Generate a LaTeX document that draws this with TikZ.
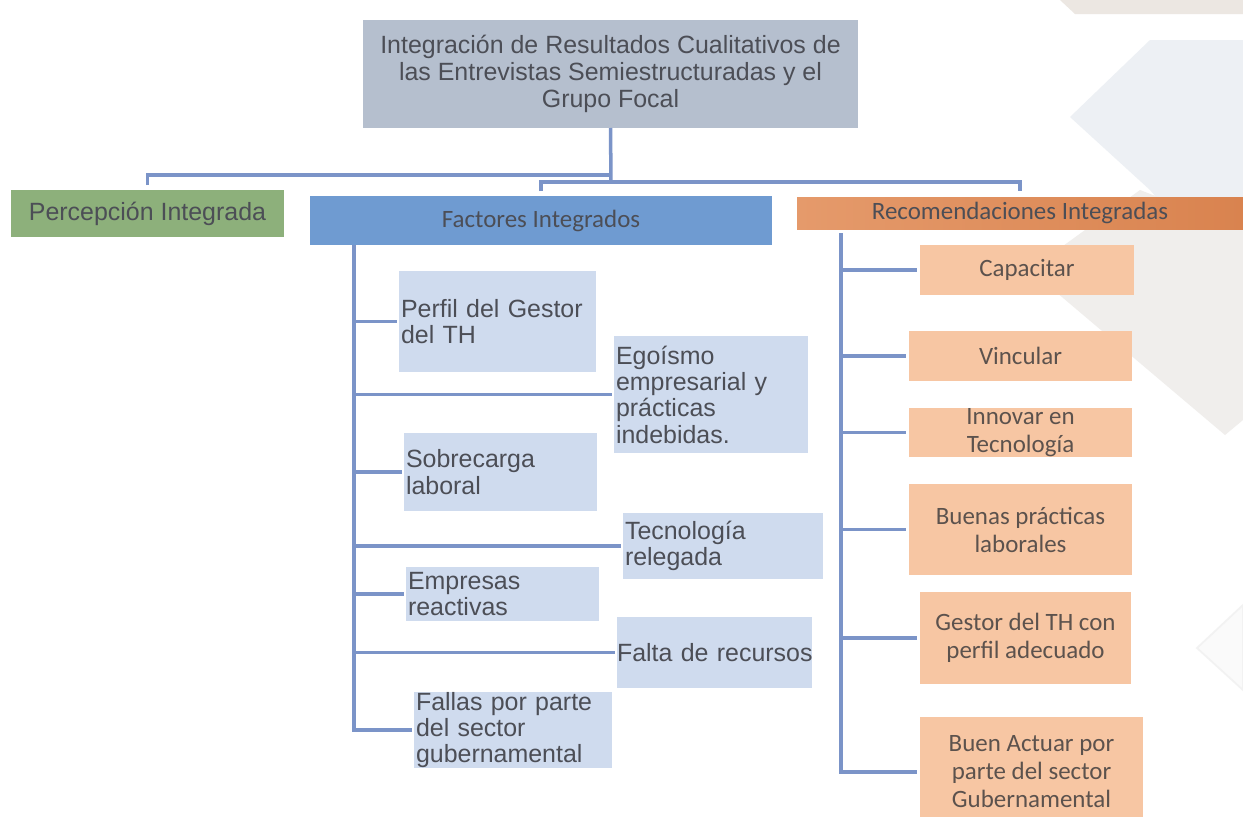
\documentclass[tikz,border=0pt]{standalone}
\usepackage{fontspec}
\setmainfont{Liberation Sans}
\newfontfamily\calfont{Carlito}
\definecolor{linec}{HTML}{7B94C8}
\definecolor{titlef}{HTML}{B5BFCE}
\definecolor{greenf}{HTML}{8DB07B}
\definecolor{bluef}{HTML}{6F9BD1}
\definecolor{orgA}{HTML}{E59A6B}
\definecolor{orgB}{HTML}{D9834F}
\definecolor{lblue}{HTML}{CFDBEE}
\definecolor{peach}{HTML}{F7C6A3}
\definecolor{txt}{HTML}{4C4E56}
\definecolor{txtc}{HTML}{5C524D}
\definecolor{bgA}{HTML}{EDF0F4}
\definecolor{bgB}{HTML}{F0EEEC}
\definecolor{bgC}{HTML}{ECE7E2}
\begin{document}
\begin{tikzpicture}[x=0.02cm,y=-0.02cm,
  conn/.style={draw=linec, line width=2pt},
  basebox/.style={rectangle, inner sep=0pt, outer sep=0pt},
  titlebox/.style={basebox, fill=titlef, text=txt, align=center,
    font=\fontsize{14.2}{15.3}\selectfont},
  headA/.style={basebox, text=txt, font=\fontsize{14.2}{15}\selectfont},
  headC/.style={basebox, text=txt, font=\calfont\fontsize{14.2}{15.9}\selectfont},
  fbox/.style={basebox, fill=lblue, text=txt, align=left, inner xsep=0.04cm,
    font=\fontsize{14.2}{15}\selectfont},
  rbox/.style={basebox, fill=peach, text=txtc, align=center,
    font=\calfont\fontsize{14.2}{15.9}\selectfont}
]
\clip (0,0) rectangle (1243,816);
\fill[white] (0,0) rectangle (1243,816);
% faint background decoration
\fill[bgC] (1060,0) -- (1243,0) -- (1243,14) -- (1075,14) -- cycle;
\fill[bgA] (1070,117) -- (1150,40) -- (1243,40) -- (1243,300) -- (1150,190) -- cycle;
\fill[bgB] (1030,270) -- (1140,190) -- (1243,230) -- (1243,420) -- (1225,435) -- cycle;
\filldraw[fill=gray!4, draw=gray!10, line width=1pt] (1197,648) -- (1243,605) -- (1243,690) -- cycle;

% top box and headers
\node[titlebox, minimum width=9.9cm, minimum height=2.16cm] (title) at (610.5,74)
  {Integración de Resultados Cualitativos de\\las Entrevistas Semiestructuradas y el\\Grupo Focal};
\node[headA, fill=greenf, minimum width=5.46cm, minimum height=0.94cm] (perc) at (147.5,213.5) {Percepción Integrada};
\node[headC, fill=bluef, minimum width=9.24cm, minimum height=0.98cm] (fact) at (541,220.5) {Factores Integrados};
\node[headC, left color=orgA, right color=orgB, minimum width=8.92cm, minimum height=0.64cm] (reco) at (1020,213) {Recomendaciones Integradas};

% factores children
\node[fbox, text width=3.86cm, minimum height=2.02cm] (p1) at (497.5,321.5) {Perfil del Gestor\\del TH};
\node[fbox, text width=3.80cm, minimum height=2.34cm] (p2) at (711,394.5) {Egoísmo\\empresarial y\\prácticas\\indebidas.};
\node[fbox, text width=3.78cm, minimum height=1.56cm] (p3) at (500.5,472) {Sobrecarga\\laboral};
\node[fbox, text width=3.92cm, minimum height=1.32cm] (p4) at (723,546) {Tecnología\\relegada};
\node[fbox, text width=3.78cm, minimum height=1.08cm] (p5) at (502.5,594) {Empresas\\reactivas};
\node[fbox, inner xsep=0pt, text width=3.9cm, minimum height=1.42cm] (p6) at (714.5,652.5) {\mbox{Falta de recursos}};
\node[fbox, text width=3.88cm, minimum height=1.52cm] (p7) at (513,730) {Fallas por parte\\del sector\\gubernamental};

% recomendaciones children
\node[rbox, minimum width=4.28cm, minimum height=1.0cm] (r1) at (1027,270) {Capacitar};
\node[rbox, minimum width=4.46cm, minimum height=1.0cm] (r2) at (1020.5,356) {Vincular};
\node[rbox, minimum width=4.46cm, minimum height=0.98cm] (r3) at (1020.5,432.5) {Innovar en\\Tecnología};
\node[rbox, minimum width=4.46cm, minimum height=1.82cm] (r4) at (1020.5,529.5) {Buenas prácticas\\laborales};
\node[rbox, minimum width=4.22cm, minimum height=1.84cm] (r5) at (1025.5,638) {Gestor del TH con\\perfil adecuado};
\node[rbox, minimum width=4.46cm, minimum height=2.2cm] (r6) at (1031.5,772) {Buen Actuar por\\parte del sector\\Gubernamental};

% top connectors
\coordinate (jA) at (611,175);
\coordinate (jB) at (611,182);
\draw[conn] (title.south) -- (jB);
\draw[conn, shorten <=0.1cm] (perc.north) |- (jA);
\draw[conn, shorten <=0.1cm, shorten >=0.12cm] (fact.north) |- (jB) -| (reco.north);

% factores tree
\coordinate (fv) at (354,245);
\draw[conn] (fv) |- ([xshift=-0.04cm]p7.west);
\foreach \n in {p1,p2,p3,p4,p5,p6}
  \draw[conn] (fv |- \n.west) -- ([xshift=-0.04cm]\n.west);

% recomendaciones tree
\coordinate (rv) at (841,233);
\draw[conn] (rv) |- ([xshift=-0.06cm]r6.west);
\foreach \n in {r1,r2,r3,r4,r5}
  \draw[conn] (rv |- \n.west) -- ([xshift=-0.06cm]\n.west);
\end{tikzpicture}
\end{document}
